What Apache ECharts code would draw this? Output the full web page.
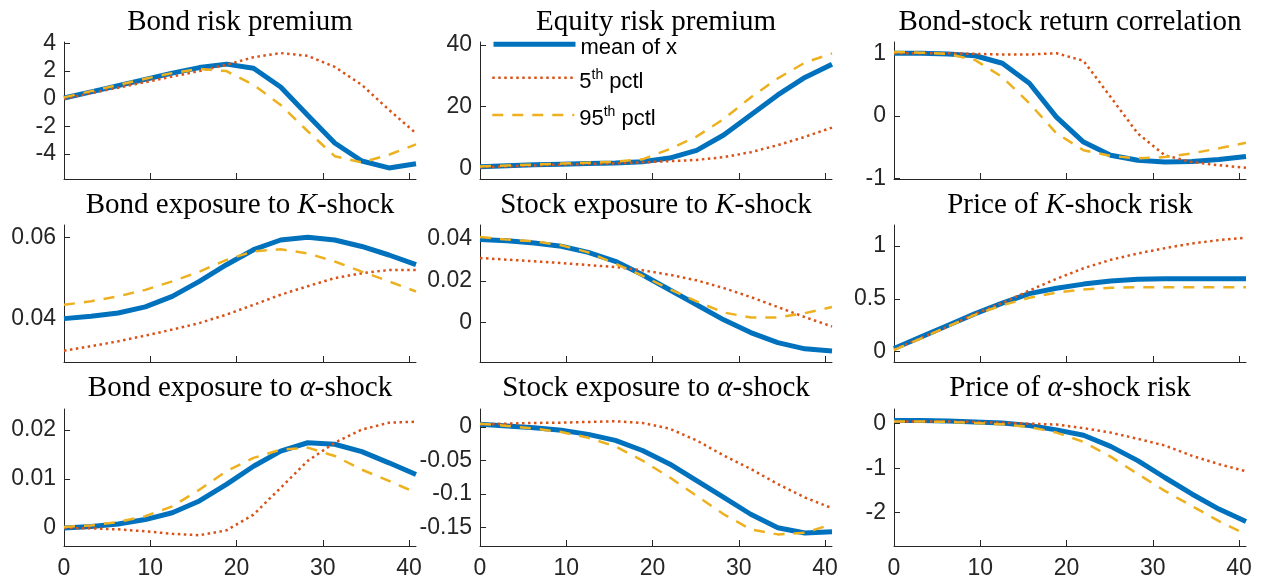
<!DOCTYPE html>
<html><head><meta charset="utf-8">
<script src="https://cdn.jsdelivr.net/npm/echarts@6/dist/echarts.min.js"></script>
<style>html,body{margin:0;padding:0;background:#fff}#c{width:1268px;height:583px}</style>
</head><body><div id="c"></div>
<script>
// horizon grid (x)
const xGrid = [0, 3.14, 6.28, 9.42, 12.55, 15.69, 18.83, 21.97, 25.11, 28.25, 31.38, 34.52, 37.66, 40.8];
const xTicks = [0, 10, 20, 30, 40];

const panelTitles = [
  'Bond risk premium', 'Equity risk premium', 'Bond-stock return correlation',
  'Bond exposure to {i|K}-shock', 'Stock exposure to {i|K}-shock', 'Price of {i|K}-shock risk',
  'Bond exposure to {i|α}-shock', 'Stock exposure to {i|α}-shock', 'Price of {i|α}-shock risk'
];
const seriesNames = ['mean of x', '5th pctl', '95th pctl'];

// Bond risk premium
const bondRPMean = [0.05, 0.5, 0.95, 1.4, 1.85, 2.25, 2.5, 2.2, 0.85, -1.2, -3.2, -4.5, -5.0, -4.7];
const bondRPP5   = [0, 0.4, 0.8, 1.2, 1.6, 2.0, 2.45, 3.0, 3.3, 3.1, 2.3, 1.0, -0.8, -2.5];
const bondRPP95  = [0.1, 0.55, 1.0, 1.45, 1.85, 2.15, 2.0, 1.0, -0.45, -2.35, -4.15, -4.6, -4.05, -3.3];
// Equity risk premium
const eqRPMean = [0.5, 0.8, 1.1, 1.3, 1.5, 1.7, 2.1, 3.3, 5.8, 10.8, 17.3, 23.8, 29.5, 33.8];
const eqRPP5   = [0.3, 0.6, 0.9, 1.2, 1.4, 1.6, 1.9, 2.3, 2.7, 3.6, 5.2, 7.5, 10.2, 13.2];
const eqRPP95  = [0.6, 0.9, 1.2, 1.5, 1.8, 2.1, 2.9, 6.2, 10.3, 16.0, 23.0, 29.2, 34.3, 37.3];
// Bond-stock return correlation
const corrMean = [1.0, 1.0, 0.99, 0.96, 0.84, 0.52, -0.02, -0.42, -0.63, -0.71, -0.74, -0.73, -0.7, -0.65];
const corrP5   = [1.0, 1.0, 1.0, 0.99, 0.98, 0.98, 1.0, 0.88, 0.3, -0.28, -0.63, -0.74, -0.79, -0.83];
const corrP95  = [1.02, 1.01, 0.99, 0.89, 0.62, 0.2, -0.28, -0.55, -0.64, -0.68, -0.66, -0.6, -0.52, -0.43];
// Bond exposure to K-shock
const bondKMean = [0.040, 0.0406, 0.0414, 0.0429, 0.0455, 0.0492, 0.0533, 0.057, 0.0594, 0.0601, 0.0594, 0.0578, 0.0557, 0.0533];
const bondKP5   = [0.0321, 0.0332, 0.0344, 0.0358, 0.0373, 0.0389, 0.041, 0.0434, 0.0459, 0.048, 0.050, 0.0512, 0.052, 0.052];
const bondKP95  = [0.0434, 0.0443, 0.0455, 0.0471, 0.0492, 0.0516, 0.0545, 0.0566, 0.0571, 0.0561, 0.0541, 0.0516, 0.0492, 0.0467];
// Stock exposure to K-shock
const stockKMean = [0.0397, 0.0392, 0.0381, 0.0365, 0.0336, 0.0293, 0.0229, 0.0157, 0.0085, 0.0013, -0.0048, -0.0096, -0.0126, -0.0136];
const stockKP5   = [0.0309, 0.0301, 0.0293, 0.0285, 0.0275, 0.0266, 0.025, 0.0229, 0.0202, 0.0165, 0.0122, 0.0074, 0.0026, -0.0019];
const stockKP95  = [0.041, 0.0397, 0.0389, 0.037, 0.0336, 0.0282, 0.0224, 0.016, 0.0101, 0.0048, 0.0024, 0.0024, 0.0045, 0.0074];
// Price of K-shock risk
const priceKMean = [0.03, 0.14, 0.25, 0.36, 0.46, 0.55, 0.6, 0.64, 0.67, 0.685, 0.69, 0.69, 0.69, 0.69];
const priceKP5   = [0.02, 0.13, 0.24, 0.36, 0.46, 0.58, 0.69, 0.79, 0.87, 0.93, 0.98, 1.025, 1.057, 1.08];
const priceKP95  = [0.015, 0.126, 0.24, 0.35, 0.44, 0.51, 0.56, 0.59, 0.605, 0.61, 0.61, 0.61, 0.61, 0.61];
// Bond exposure to alpha-shock
const bondAMean = [0, 0.0003, 0.0008, 0.0017, 0.0031, 0.0055, 0.0089, 0.0126, 0.0157, 0.0174, 0.0171, 0.0156, 0.0133, 0.0109];
const bondAP5   = [0, -0.0001, -0.0003, -0.0007, -0.0012, -0.0015, -0.0005, 0.0027, 0.0082, 0.0137, 0.0174, 0.0201, 0.0215, 0.0217];
const bondAP95  = [0.0002, 0.0005, 0.0012, 0.0024, 0.0044, 0.0078, 0.0116, 0.0143, 0.016, 0.0164, 0.0147, 0.0119, 0.0096, 0.0072];
// Stock exposure to alpha-shock
const stockAMean = [0.004, 0.0015, -0.001, -0.005, -0.011, -0.02, -0.035, -0.055, -0.08, -0.105, -0.13, -0.15, -0.158, -0.156];
const stockAP5   = [0.004, 0.005, 0.006, 0.0065, 0.0075, 0.0085, 0.006, -0.0025, -0.02, -0.0425, -0.0625, -0.085, -0.105, -0.121];
const stockAP95  = [0.005, 0.0015, -0.0025, -0.0075, -0.016, -0.029, -0.05, -0.075, -0.1025, -0.13, -0.1525, -0.16, -0.1575, -0.145];
// Price of alpha-shock risk
const priceAMean = [0.07, 0.07, 0.06, 0.04, 0.015, -0.04, -0.14, -0.26, -0.51, -0.83, -1.21, -1.58, -1.92, -2.2];
const priceAP5   = [0.05, 0.05, 0.05, 0.04, 0.02, 0, -0.02, -0.1, -0.2, -0.34, -0.49, -0.72, -0.91, -1.07];
const priceAP95  = [0.05, 0.05, 0.04, 0.015, -0.015, -0.075, -0.2, -0.41, -0.74, -1.13, -1.51, -1.85, -2.19, -2.49];

const panelData = [
  [bondRPMean, bondRPP5, bondRPP95], [eqRPMean, eqRPP5, eqRPP95], [corrMean, corrP5, corrP95],
  [bondKMean, bondKP5, bondKP95], [stockKMean, stockKP5, stockKP95], [priceKMean, priceKP5, priceKP95],
  [bondAMean, bondAP5, bondAP95], [stockAMean, stockAP5, stockAP95], [priceAMean, priceAP5, priceAP95]
];
const yTicks = [
  [-4, -2, 0, 2, 4], [0, 20, 40], [-1, 0, 1],
  [0.04, 0.06], [0, 0.02, 0.04], [0, 0.5, 1],
  [0, 0.01, 0.02], [-0.15, -0.1, -0.05, 0], [-2, -1, 0]
];
const yRanges = [
  [-5.8, 4.1], [-3.5, 41], [-1.01, 1.18],
  [0.0293, 0.0631], [-0.0189, 0.0467], [-0.098, 1.2],
  [-0.0037, 0.0243], [-0.1773, 0.0268], [-2.75, 0.33]
];

// layout
const colLeft = [64, 480, 894];
const plotW = 352;
const rowTop = [42, 225, 409];
const plotH = 137;
const titleTop = [8, 191, 374];

const colors = ['#0072BD', '#D95319', '#EDB120'];
const lineStyles = [
  { width: 5, type: 'solid' },
  { width: 2.5, type: [2.5, 3.5], cap: 'butt' },
  { width: 2.5, type: [11, 9], cap: 'butt' }
];
const axisColor = '#262626';
const sans = 'Liberation Sans, Arial, Helvetica, sans-serif';
const serif = 'Liberation Serif, Times New Roman, serif';

const grids = [], xAxes = [], yAxes = [], series = [], titles = [];
for (let p = 0; p < 9; p++) {
  const r = Math.floor(p / 3), c = p % 3;
  grids.push({ left: colLeft[c], top: rowTop[r], width: plotW, height: plotH, containLabel: false, outerBoundsMode: 'none' });
  xAxes.push({
    type: 'value', gridIndex: p, min: 0, max: 40.8,
    axisLine: { show: true, onZero: false, lineStyle: { color: axisColor, width: 1 } },
    axisTick: { show: true, inside: true, length: 6, customValues: xTicks, lineStyle: { color: axisColor } },
    axisLabel: { show: r === 2, customValues: xTicks, fontSize: 23, fontFamily: sans, color: axisColor, margin: 11 },
    splitLine: { show: false }
  });
  yAxes.push({
    type: 'value', gridIndex: p, min: yRanges[p][0], max: yRanges[p][1],
    axisLine: { show: true, onZero: false, lineStyle: { color: axisColor, width: 1 } },
    axisTick: { show: true, inside: true, length: 6, customValues: yTicks[p], lineStyle: { color: axisColor } },
    axisLabel: { show: true, customValues: yTicks[p], fontSize: 23, fontFamily: sans, color: axisColor, margin: 8,
      formatter: v => String(+v.toFixed(4)) },
    splitLine: { show: false }
  });
  titles.push({
    text: panelTitles[p], left: colLeft[c] + plotW / 2, top: titleTop[r], textAlign: 'center', padding: 0,
    textStyle: { fontFamily: serif, fontSize: 29, fontWeight: 'normal', color: '#000',
      rich: { i: { fontFamily: serif, fontSize: 29, fontStyle: 'italic', color: '#000' } } }
  });
  for (let s = 0; s < 3; s++) {
    series.push({
      name: seriesNames[s], type: 'line', xAxisIndex: p, yAxisIndex: p,
      data: xGrid.map((x, j) => [x, panelData[p][s][j]]),
      symbol: 'none', showSymbol: false, smooth: false, z: 2 + s,
      lineStyle: Object.assign({ color: colors[s] }, lineStyles[s]),
      itemStyle: { color: colors[s] },
      emphasis: { disabled: true }
    });
  }
}

const legendCenters = [44.3, 77.7, 115];
const legends = seriesNames.map((n, k) => ({
  data: [n], left: 491, top: legendCenters[k] - 18, padding: 0, orient: 'vertical',
  itemWidth: 82, itemHeight: 14, selectedMode: false,
  lineStyle: Object.assign({ color: colors[k] }, lineStyles[k]),
  itemStyle: { opacity: 0 },
  formatter: name => name === 'mean of x' ? name : name.replace('th', '{sup|th}'),
  textStyle: { fontFamily: sans, fontSize: 22, color: '#000', lineHeight: 28, padding: [8, 0, 0, 0],
    rich: { sup: { fontFamily: sans, fontSize: 14, lineHeight: 14, verticalAlign: 'top', color: '#000' } } }
}));

const chart = echarts.init(document.getElementById('c'), null, { renderer: 'canvas' });
chart.setOption({
  animation: false,
  backgroundColor: '#fff',
  title: titles,
  legend: legends,
  grid: grids,
  xAxis: xAxes,
  yAxis: yAxes,
  series: series
});
</script>
</body></html>
